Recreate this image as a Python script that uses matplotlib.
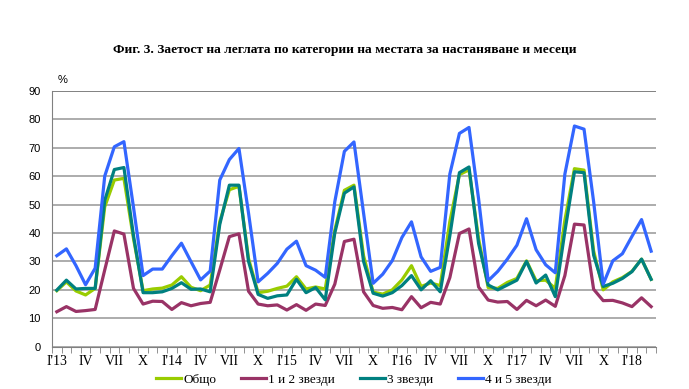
import matplotlib
matplotlib.use("Agg")
import matplotlib.pyplot as plt
import numpy as np

# Заетост на леглата, %, януари 2013 - март 2018
obshto = [19.7, 22.8, 19.6, 18.2, 20.5, 49.2, 58.6, 59.2, 38.0, 19.7, 20.3, 20.6,
          21.7, 24.6, 20.9, 19.7, 21.7, 44.0, 55.2, 56.4, 31.0, 19.0, 19.5, 20.5,
          21.3, 24.6, 20.3, 21.0, 20.3, 41.0, 55.0, 56.8, 32.0, 19.2, 18.5, 20.0,
          23.5, 28.5, 21.2, 22.4, 21.5, 44.0, 60.5, 62.2, 38.0, 20.8, 20.5, 22.6,
          24.0, 30.2, 23.2, 23.4, 20.5, 44.5, 62.6, 62.1, 33.7, 20.0, 22.8, 24.3,
          26.5, 30.8, 23.7]
zv12 = [12.3, 14.1, 12.4, 12.7, 13.1, 27.0, 40.7, 39.6, 20.5, 15.0, 16.0, 15.9,
        13.1, 15.5, 14.4, 15.2, 15.6, 27.0, 38.7, 39.7, 19.5, 15.0, 14.4, 14.7,
        12.9, 14.8, 12.8, 15.0, 14.5, 22.0, 37.0, 37.8, 19.3, 14.5, 13.5, 13.8,
        13.0, 17.6, 13.7, 15.6, 15.0, 24.3, 39.8, 41.4, 21.0, 16.4, 15.7, 15.9,
        13.1, 16.3, 14.4, 16.4, 14.2, 25.0, 43.1, 42.8, 20.2, 16.2, 16.3, 15.4,
        14.1, 17.2, 14.1]
zv3 = [19.9, 23.4, 20.3, 20.5, 20.5, 51.5, 62.3, 63.0, 39.0, 19.0, 19.0, 19.3,
       20.5, 22.5, 20.2, 20.3, 19.3, 43.0, 56.8, 56.8, 30.0, 18.4, 17.0, 17.9,
       18.2, 23.7, 19.0, 20.8, 16.5, 40.0, 54.0, 56.2, 30.0, 18.8, 17.8, 19.0,
       21.5, 25.0, 20.0, 23.2, 19.3, 39.0, 61.2, 63.2, 36.3, 21.7, 20.0, 21.7,
       23.4, 30.0, 22.4, 25.2, 17.6, 40.5, 61.5, 61.2, 32.2, 21.2, 22.3, 24.0,
       26.4, 30.8, 23.7]
zv45 = [32.0, 34.4, 28.5, 21.8, 27.6, 60.0, 70.3, 72.1, 49.0, 25.0, 27.3, 27.3,
        32.0, 36.4, 29.9, 23.5, 26.6, 58.6, 65.8, 69.7, 47.0, 22.8, 25.8, 29.3,
        34.3, 37.1, 28.5, 26.9, 24.4, 51.0, 68.7, 72.0, 47.0, 22.3, 25.5, 30.3,
        38.4, 43.9, 31.6, 26.5, 27.9, 60.7, 75.0, 77.1, 52.0, 23.2, 26.5, 30.8,
        35.7, 45.0, 34.1, 28.8, 26.0, 60.7, 77.6, 76.5, 51.0, 22.0, 30.2, 32.7,
        38.8, 44.7, 33.6]

godini = ["13", "14", "15", "16", "17", "18"]
trimesechia = ["IV", "VII", "X"]

x = np.arange(len(obshto))
etiketi = []
for g in godini:
    etiketi.append("I'" + g)
    etiketi += trimesechia
etiketi = etiketi[:len(x[::3])]

fig = plt.figure(figsize=(6.89, 3.89), dpi=100)
ax = fig.add_axes([0.0755, 0.1087, 0.8765, 0.658])

# Линии по категории
ax.plot(x, obshto, color="#99CC00", lw=2.3, label="Общо")
ax.plot(x, zv12, color="#993366", lw=2.3, label="1 и 2 звезди")
ax.plot(x, zv3, color="#008080", lw=2.3, label="3 звезди")
ax.plot(x, zv45, color="#3366FF", lw=2.3, label="4 и 5 звезди")

ax.set_xlim(-0.5, len(x) - 0.5)
ax.set_ylim(0, 90)
ax.set_yticks(range(0, 91, 10))
ax.set_yticklabels([str(v) for v in range(0, 91, 10)], family="Liberation Sans", fontsize=8)
ax.yaxis.grid(True, color="#A6A6A6", lw=1.3)
ax.set_axisbelow(True)
ax.tick_params(axis="y", length=0, pad=8)

ax.set_xticks(x[::3])
ax.set_xticklabels(etiketi, family="Liberation Serif", fontsize=10)
ax.set_xticks(np.arange(-0.5, len(x), 1), minor=True)
ax.tick_params(axis="x", which="major", length=0, pad=6)
ax.tick_params(axis="x", which="minor", length=4, color="#808080")

for s in ["top", "right"]:
    ax.spines[s].set_visible(False)
ax.spines["left"].set_color("#808080")
ax.spines["bottom"].set_color("#808080")
ax.axhline(90, color="#808080", lw=1.3)

ax.text(0.01, 1.03, "%", transform=ax.transAxes, family="Liberation Sans", fontsize=8)

fig.text(0.5, 0.871, "Фиг. 3. Заетост на леглата по категории на местата за настаняване и месеци",
         ha="center", va="center", family="Liberation Serif", weight="bold", fontsize=9.7)

ax.legend(loc="upper center", bbox_to_anchor=(0.5, -0.085), ncol=4, frameon=False,
          prop={"family": "Liberation Serif", "size": 9.5}, handlelength=1.9,
          handletextpad=0.15, columnspacing=1.9, borderaxespad=0)

plt.savefig("out.png", dpi=100)
